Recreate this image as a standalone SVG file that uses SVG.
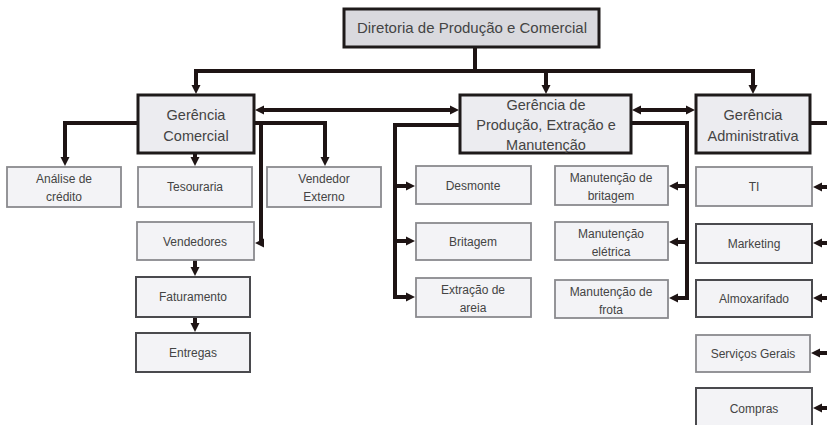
<svg xmlns="http://www.w3.org/2000/svg" width="827" height="425" viewBox="0 0 827 425">
<defs>
<marker id="ah" markerUnits="userSpaceOnUse" markerWidth="10" markerHeight="10" refX="5" refY="5" orient="auto-start-reverse">
<path d="M0,0.5 L9,5 L0,9.5 z" fill="#1e1414"/>
</marker>
<style>
.main{fill:#ececf0;stroke:#1e1a1a;stroke-width:3}
.top{fill:#d9d9de;stroke:#1e1a1a;stroke-width:3}
.sub{fill:#f3f3f6;stroke:#8a8a8e;stroke-width:1.8}
.subd{fill:#f3f3f6;stroke:#4a4a4e;stroke-width:2}
text{font-family:"Liberation Sans",Arial,sans-serif;fill:#444;text-anchor:middle}
.t1{font-size:15px}
.t2{font-size:14.5px}
.t3{font-size:12px}
.c{fill:none;stroke:#1e1414;stroke-width:4}
.a{marker-end:url(#ah)}
.b{marker-start:url(#ah);marker-end:url(#ah)}
</style>
</defs>
<g id="connectors">
<path class="c" d="M475,47 V71"/>
<path class="c" d="M194,71 H755"/>
<path class="c a" d="M196,71 V90"/>
<path class="c a" d="M546,71 V90"/>
<path class="c a" d="M753,71 V90"/>
<path class="c b" d="M259,110 H455"/>
<path class="c b" d="M636,110 H691"/>
<path class="c a" d="M138,123 H65 V162"/>
<path class="c a" d="M195,153 V162"/>
<path class="c a" d="M254,123 H325 V162"/>
<path class="c a" d="M261,123 V243 H259"/>
<path class="c a" d="M195,260 V272"/>
<path class="c a" d="M195,317 V328"/>
<path class="c a" d="M460,125 H395 V297 H411"/>
<path class="c a" d="M395,186 H411"/>
<path class="c a" d="M395,241 H411"/>
<path class="c a" d="M631,123 H687 V298 H673"/>
<path class="c a" d="M687,186 H673"/>
<path class="c a" d="M687,242 H673"/>
<path class="c" d="M810,123 H830 V410"/>
<path class="c a" d="M830,187 H817"/>
<path class="c a" d="M830,243 H817"/>
<path class="c a" d="M830,298 H817"/>
<path class="c a" d="M830,353 H815"/>
<path class="c a" d="M830,408 H817"/>
</g>
<g id="n-diretoria"><rect class="top" x="344" y="9" width="255" height="38"/><text class="t1" x="472" y="33">Diretoria de Produção e Comercial</text></g>
<g id="n-ger-comercial"><rect class="main" x="138" y="95" width="116" height="58"/><text class="t2" x="196" y="120">Gerência</text><text class="t2" x="196" y="141">Comercial</text></g>
<g id="n-ger-producao"><rect class="main" x="460" y="95" width="171" height="58"/><text class="t2" x="546" y="110">Gerência de</text><text class="t2" x="546" y="130">Produção, Extração e</text><text class="t2" x="546" y="150">Manutenção</text></g>
<g id="n-ger-admin"><rect class="main" x="696" y="95" width="114" height="58"/><text class="t2" x="753" y="120">Gerência</text><text class="t2" x="753" y="141">Administrativa</text></g>
<g id="n-analise"><rect class="sub" x="7" y="167" width="114" height="40"/><text class="t3" x="64" y="183">Análise de</text><text class="t3" x="64" y="201">crédito</text></g>
<g id="n-tesouraria"><rect class="sub" x="138" y="167" width="114" height="40"/><text class="t3" x="195" y="191">Tesouraria</text></g>
<g id="n-vendedor-externo"><rect class="sub" x="267" y="167" width="114" height="40"/><text class="t3" x="324" y="183">Vendedor</text><text class="t3" x="324" y="201">Externo</text></g>
<g id="n-vendedores"><rect class="sub" x="137" y="222" width="117" height="38"/><text class="t3" x="195" y="246">Vendedores</text></g>
<g id="n-faturamento"><rect class="subd" x="136" y="277" width="114" height="40"/><text class="t3" x="193" y="301">Faturamento</text></g>
<g id="n-entregas"><rect class="subd" x="136" y="333" width="114" height="39"/><text class="t3" x="193" y="357">Entregas</text></g>
<g id="n-desmonte"><rect class="sub" x="416" y="166" width="115" height="38"/><text class="t3" x="473" y="190">Desmonte</text></g>
<g id="n-britagem"><rect class="sub" x="416" y="223" width="115" height="37"/><text class="t3" x="473" y="246">Britagem</text></g>
<g id="n-extracao"><rect class="sub" x="416" y="278" width="115" height="39"/><text class="t3" x="473" y="294">Extração de</text><text class="t3" x="473" y="312">areia</text></g>
<g id="n-man-britagem"><rect class="sub" x="555" y="166" width="113" height="39"/><text class="t3" x="611" y="182">Manutenção de</text><text class="t3" x="611" y="200">britagem</text></g>
<g id="n-man-eletrica"><rect class="sub" x="555" y="222" width="113" height="38"/><text class="t3" x="611" y="238">Manutenção</text><text class="t3" x="611" y="256">elétrica</text></g>
<g id="n-man-frota"><rect class="sub" x="555" y="280" width="113" height="38"/><text class="t3" x="611" y="296">Manutenção de</text><text class="t3" x="611" y="314">frota</text></g>
<g id="n-ti"><rect class="sub" x="696" y="167" width="116" height="39"/><text class="t3" x="754" y="191">TI</text></g>
<g id="n-marketing"><rect class="subd" x="696" y="224" width="116" height="39"/><text class="t3" x="754" y="248">Marketing</text></g>
<g id="n-almox"><rect class="subd" x="696" y="280" width="116" height="37"/><text class="t3" x="754" y="303">Almoxarifado</text></g>
<g id="n-servicos"><rect class="sub" x="696" y="335" width="114" height="37"/><text class="t3" x="753" y="358">Serviços Gerais</text></g>
<g id="n-compras"><rect class="subd" x="696" y="388" width="116" height="42"/><text class="t3" x="754" y="413">Compras</text></g>
</svg>
